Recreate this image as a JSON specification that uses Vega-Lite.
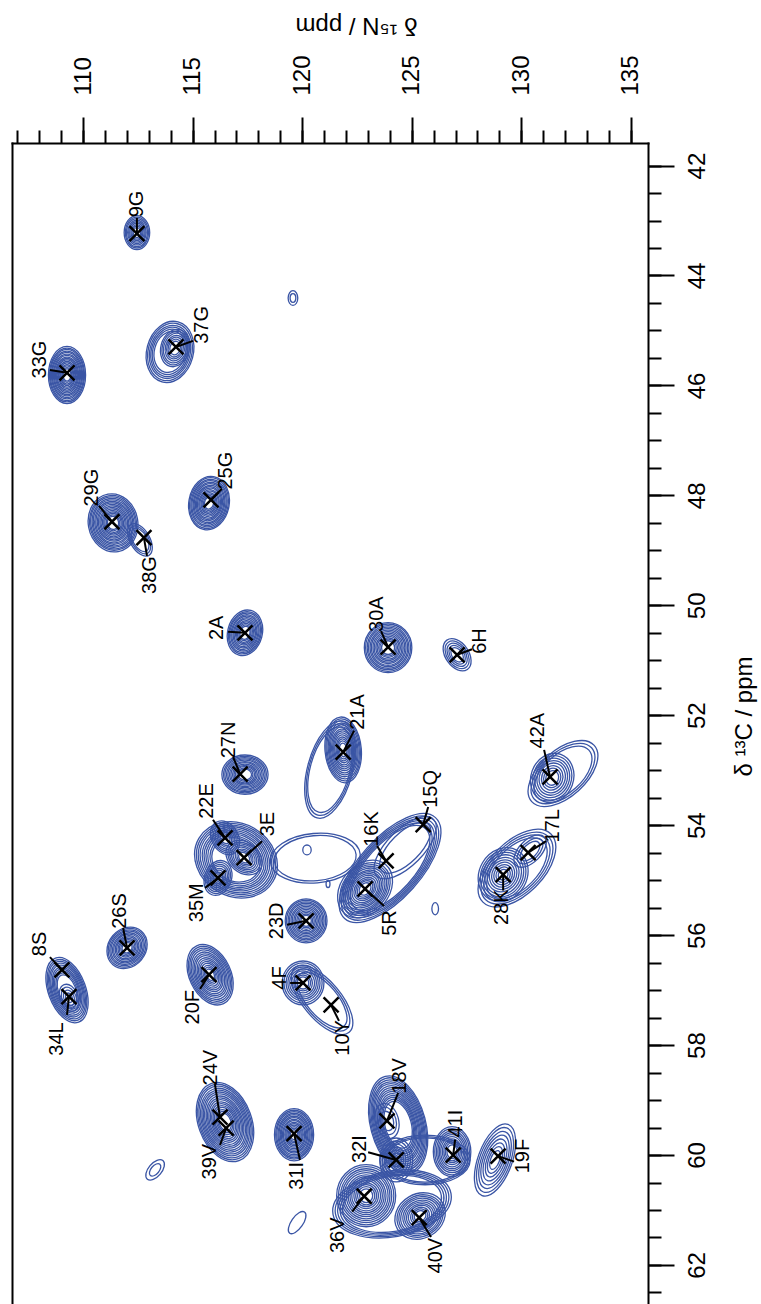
{
  "$schema": "https://vega.github.io/schema/vega-lite/v6.json",
  "autosize": {"type": "none"},
  "padding": {"left": 12, "top": 143, "right": 113, "bottom": 0},
  "width": 636,
  "height": 1161,
  "background": "white",
  "config": {
    "view": {"stroke": null},
    "font": "Liberation Sans",
    "axis": {"grid": false, "domainColor": "black", "tickColor": "black", "labelColor": "black", "titleColor": "black", "labelFont": "Liberation Sans", "titleFont": "Liberation Sans", "titleFontWeight": "normal", "domainWidth": 2, "tickWidth": 2, "labelOverlap": false, "labelFlush": false, "domainCap": "square"}
  },
  "datasets": {
    "blobs": [
      {"n": 112.46, "c": 43.22, "a": "e75", "t": 0, "r": [0.62,0.56,0.51,0.45,0.40,0.35,0.29,0.24,0.18]},
      {"n": 119.58, "c": 44.41, "a": "e65", "t": 0, "r": [0.27,0.16]},
      {"n": 113.97, "c": 45.39, "a": "e75", "t": 15, "r": [1.13,1.06,0.98,0.91,0.84,0.76]},
      {"n": 114.20, "c": 45.32, "a": "e75", "t": 15, "r": [0.69,0.62,0.55,0.47,0.40,0.33,0.25]},
      {"n": 109.27, "c": 45.81, "a": "e65", "t": 0, "r": [1.04,0.98,0.93,0.87,0.82,0.76,0.71,0.65,0.60,0.55,0.49,0.44,0.38,0.33,0.27,0.22]},
      {"n": 111.37, "c": 48.50, "a": "e85", "t": -10, "r": [1.06,1.00,0.95,0.89,0.84,0.78,0.73,0.67,0.62,0.56,0.51,0.45,0.40,0.35,0.29,0.24]},
      {"n": 112.60, "c": 48.81, "a": "e55", "t": -30, "r": [0.65,0.56,0.47]},
      {"n": 115.75, "c": 48.14, "a": "e75", "t": 10, "r": [0.98,0.93,0.87,0.82,0.76,0.71,0.65,0.60,0.55,0.49,0.44,0.38,0.33,0.27,0.22]},
      {"n": 117.39, "c": 50.50, "a": "e75", "t": 15, "r": [0.84,0.78,0.73,0.67,0.62,0.56,0.51,0.45,0.40,0.35,0.29,0.24]},
      {"n": 123.92, "c": 50.77, "a": "e95", "t": 0, "r": [0.91,0.86,0.80,0.75,0.69,0.64,0.58,0.53,0.47,0.42,0.36,0.31,0.25]},
      {"n": 127.07, "c": 50.90, "a": "e65", "t": -35, "r": [0.65,0.56,0.47,0.38,0.29]},
      {"n": 117.39, "c": 53.08, "a": "e85", "t": 90, "r": [0.84,0.78,0.73,0.67,0.62,0.56,0.51,0.45,0.40,0.35,0.29,0.24]},
      {"n": 121.87, "c": 52.63, "a": "e55", "t": -5, "r": [1.20,1.13,1.06,0.98,0.91,0.84,0.76,0.69,0.62,0.55,0.47,0.40,0.33,0.25]},
      {"n": 121.27, "c": 52.99, "a": "e45", "t": 15, "r": [1.82,1.71,1.60]},
      {"n": 116.48, "c": 54.23, "a": "e75", "t": -30, "r": [0.65,0.58,0.51,0.44,0.36,0.29,0.22]},
      {"n": 117.35, "c": 54.59, "a": "e75", "t": -50, "r": [0.73,0.65,0.58,0.51,0.44,0.36,0.29,0.22]},
      {"n": 116.16, "c": 54.96, "a": "e75", "t": 20, "r": [0.65,0.58,0.51,0.44,0.36,0.29,0.22]},
      {"n": 116.98, "c": 54.63, "a": "e85", "t": -60, "r": [1.56,1.49,1.42,1.35,1.27,1.20,1.13,1.06,0.98,0.91]},
      {"n": 120.60, "c": 54.60, "a": "e55", "t": 85, "r": [1.64,1.49]},
      {"n": 124.01, "c": 54.78, "a": "e45", "t": 42, "r": [2.47,2.36,2.25,2.15,2.04,1.93]},
      {"n": 122.87, "c": 55.16, "a": "e75", "t": 40, "r": [1.16,1.06,0.98,0.91,0.84,0.76,0.69,0.62,0.55,0.47,0.40,0.33,0.25]},
      {"n": 124.70, "c": 54.41, "a": "e45", "t": 45, "r": [1.46,1.20]},
      {"n": 120.18, "c": 55.74, "a": "e95", "t": 0, "r": [0.80,0.75,0.69,0.64,0.58,0.53,0.47,0.42,0.36,0.31,0.25,0.20]},
      {"n": 120.22, "c": 54.45, "a": "e85", "t": 0, "r": [0.18]},
      {"n": 121.18, "c": 55.07, "a": "e55", "t": 0, "r": [0.13]},
      {"n": 126.07, "c": 55.52, "a": "e55", "t": 0, "r": [0.22]},
      {"n": 131.41, "c": 53.14, "a": "e85", "t": 20, "r": [0.91,0.82,0.73,0.64,0.55,0.45,0.36,0.27]},
      {"n": 131.90, "c": 53.06, "a": "e55", "t": 48, "r": [1.53,1.40,1.27]},
      {"n": 129.80, "c": 54.78, "a": "e55", "t": 45, "r": [1.75,1.62,1.49,1.36]},
      {"n": 129.17, "c": 54.90, "a": "e85", "t": 30, "r": [1.02,0.93,0.84,0.75,0.65,0.56,0.47,0.38,0.29,0.20]},
      {"n": 130.40, "c": 54.47, "a": "e55", "t": 45, "r": [0.73,0.58,0.44]},
      {"n": 109.27, "c": 57.00, "a": "e55", "t": -20, "r": [1.24,1.16,1.09,1.02,0.95,0.87,0.80,0.73,0.65,0.58]},
      {"n": 109.36, "c": 57.14, "a": "e65", "t": -20, "r": [0.51,0.40,0.29,0.18]},
      {"n": 112.01, "c": 56.23, "a": "e85", "t": 40, "r": [0.80,0.75,0.69,0.64,0.58,0.53,0.47,0.42,0.36,0.31,0.25,0.20]},
      {"n": 115.80, "c": 56.72, "a": "e65", "t": -25, "r": [1.16,1.09,1.02,0.95,0.87,0.80,0.73,0.65,0.58,0.51,0.44,0.36,0.29,0.22]},
      {"n": 120.04, "c": 56.87, "a": "e95", "t": 0, "r": [0.80,0.73,0.65,0.58,0.51,0.44,0.36,0.29,0.22]},
      {"n": 120.91, "c": 57.18, "a": "e45", "t": -40, "r": [1.53,1.38,1.24]},
      {"n": 116.48, "c": 59.40, "a": "e65", "t": -20, "r": [1.49,1.42,1.35,1.27,1.20,1.13,1.06,0.98,0.91,0.84,0.76,0.69,0.62,0.55,0.47,0.40,0.33]},
      {"n": 119.63, "c": 59.63, "a": "e75", "t": 0, "r": [0.95,0.89,0.84,0.78,0.73,0.67,0.62,0.56,0.51,0.45,0.40,0.35,0.29,0.24,0.18]},
      {"n": 113.29, "c": 60.27, "a": "e55", "t": 40, "r": [0.44,0.27]},
      {"n": 119.77, "c": 61.23, "a": "e45", "t": 35, "r": [0.47]},
      {"n": 124.38, "c": 59.45, "a": "e55", "t": -15, "r": [1.82,1.75,1.67,1.60,1.53,1.46,1.38,1.31,1.24,1.16,1.09,1.02,0.95,0.87]},
      {"n": 123.87, "c": 59.38, "a": "e65", "t": -15, "r": [0.65,0.51,0.36]},
      {"n": 124.29, "c": 60.09, "a": "e75", "t": 0, "r": [0.80,0.69,0.58,0.47,0.36,0.25]},
      {"n": 122.92, "c": 60.74, "a": "e95", "t": 0, "r": [1.13,1.06,0.98,0.91,0.84,0.76,0.69,0.62,0.55,0.47,0.40,0.33,0.25]},
      {"n": 125.38, "c": 61.11, "a": "e85", "t": 60, "r": [0.95,0.87,0.80,0.73,0.65,0.58,0.51,0.44,0.36,0.29,0.22]},
      {"n": 126.84, "c": 59.94, "a": "e75", "t": 0, "r": [0.91,0.84,0.76,0.69,0.62,0.55,0.47,0.40,0.33,0.25]},
      {"n": 125.61, "c": 60.09, "a": "e55", "t": 90, "r": [1.64,1.55,1.46]},
      {"n": 124.10, "c": 60.89, "a": "e55", "t": 80, "r": [2.18,2.09,2.00,1.91,1.82]},
      {"n": 128.80, "c": 60.09, "a": "e45", "t": 20, "r": [1.38,1.24,1.09,0.95,0.80,0.65,0.51,0.36]}
    ],
    "peaks": [
      {"id": "9G", "n": 112.46, "c": 43.24, "ln": 112.46, "lc": 42.70, "en": 112.46, "ec": 42.95},
      {"id": "37G", "n": 114.24, "c": 45.30, "ln": 115.43, "lc": 44.90, "en": 115.02, "ec": 45.19},
      {"id": "33G", "n": 109.27, "c": 45.77, "ln": 108.04, "lc": 45.53, "en": 108.49, "ec": 45.72},
      {"id": "29G", "n": 111.32, "c": 48.48, "ln": 110.41, "lc": 47.86, "en": 110.73, "ec": 48.19},
      {"id": "38G", "n": 112.78, "c": 48.77, "ln": 113.06, "lc": 49.45, "en": 112.92, "ec": 49.10},
      {"id": "25G", "n": 115.84, "c": 48.08, "ln": 116.53, "lc": 47.55, "en": 116.34, "ec": 47.88},
      {"id": "2A", "n": 117.39, "c": 50.50, "ln": 116.12, "lc": 50.41, "en": 116.62, "ec": 50.48},
      {"id": "30A", "n": 123.92, "c": 50.76, "ln": 123.42, "lc": 50.16, "en": 123.60, "ec": 50.47},
      {"id": "6H", "n": 127.07, "c": 50.90, "ln": 128.12, "lc": 50.65, "en": 127.75, "ec": 50.80},
      {"id": "27N", "n": 117.17, "c": 53.07, "ln": 116.66, "lc": 52.45, "en": 116.85, "ec": 52.76},
      {"id": "21A", "n": 121.87, "c": 52.67, "ln": 122.55, "lc": 51.94, "en": 122.37, "ec": 52.28},
      {"id": "22E", "n": 116.48, "c": 54.23, "ln": 115.66, "lc": 53.56, "en": 115.93, "ec": 53.90},
      {"id": "3E", "n": 117.35, "c": 54.59, "ln": 118.44, "lc": 53.98, "en": 118.17, "ec": 54.29},
      {"id": "35M", "n": 116.16, "c": 54.96, "ln": 115.20, "lc": 55.41, "en": 115.57, "ec": 55.14},
      {"id": "16K", "n": 123.83, "c": 54.65, "ln": 123.19, "lc": 54.07, "en": 123.42, "ec": 54.38},
      {"id": "15Q", "n": 125.52, "c": 53.99, "ln": 125.88, "lc": 53.34, "en": 125.75, "ec": 53.67},
      {"id": "5R", "n": 122.87, "c": 55.16, "ln": 124.01, "lc": 55.78, "en": 123.74, "ec": 55.47},
      {"id": "23D", "n": 120.18, "c": 55.74, "ln": 118.85, "lc": 55.74, "en": 119.31, "ec": 55.81},
      {"id": "42A", "n": 131.31, "c": 53.12, "ln": 130.77, "lc": 52.28, "en": 131.04, "ec": 52.63},
      {"id": "17L", "n": 130.31, "c": 54.50, "ln": 131.45, "lc": 54.01, "en": 131.13, "ec": 54.29},
      {"id": "28K", "n": 129.17, "c": 54.90, "ln": 129.12, "lc": 55.49, "en": 129.17, "ec": 55.19},
      {"id": "8S", "n": 109.04, "c": 56.63, "ln": 108.04, "lc": 56.16, "en": 108.49, "ec": 56.40},
      {"id": "34L", "n": 109.36, "c": 57.12, "ln": 108.81, "lc": 57.89, "en": 109.27, "ec": 57.45},
      {"id": "26S", "n": 112.01, "c": 56.23, "ln": 111.69, "lc": 55.56, "en": 111.83, "ec": 55.87},
      {"id": "20F", "n": 115.75, "c": 56.72, "ln": 115.02, "lc": 57.31, "en": 115.34, "ec": 56.98},
      {"id": "4F", "n": 120.04, "c": 56.87, "ln": 118.99, "lc": 56.78, "en": 119.45, "ec": 56.87},
      {"id": "10Y", "n": 121.32, "c": 57.27, "ln": 121.87, "lc": 57.87, "en": 121.68, "ec": 57.56},
      {"id": "24V", "n": 116.25, "c": 59.31, "ln": 115.84, "lc": 58.41, "en": 116.02, "ec": 58.71},
      {"id": "39V", "n": 116.53, "c": 59.51, "ln": 115.80, "lc": 60.12, "en": 116.25, "ec": 59.82},
      {"id": "31I", "n": 119.63, "c": 59.61, "ln": 119.77, "lc": 60.38, "en": 119.90, "ec": 60.09},
      {"id": "18V", "n": 123.87, "c": 59.38, "ln": 124.47, "lc": 58.56, "en": 124.38, "ec": 58.87},
      {"id": "32I", "n": 124.29, "c": 60.09, "ln": 122.64, "lc": 59.89, "en": 123.01, "ec": 59.95},
      {"id": "41I", "n": 126.89, "c": 60.00, "ln": 127.02, "lc": 59.43, "en": 126.98, "ec": 59.72},
      {"id": "19F", "n": 128.94, "c": 60.02, "ln": 130.08, "lc": 60.02, "en": 129.67, "ec": 60.12},
      {"id": "36V", "n": 122.83, "c": 60.75, "ln": 121.64, "lc": 61.46, "en": 122.28, "ec": 61.03},
      {"id": "40V", "n": 125.34, "c": 61.14, "ln": 126.11, "lc": 61.83, "en": 125.88, "ec": 61.49}
    ]
  },
  "resolve": {"axis": {"x": "independent", "y": "independent"}},
  "layer": [
    {
      "data": {"name": "blobs"},
      "transform": [{"flatten": ["r"]}],
      "mark": {"type": "point", "filled": false, "stroke": "#3a55a5", "strokeWidth": 1.3, "opacity": 1},
      "encoding": {
        "x": {"field": "n", "type": "quantitative", "scale": {"domain": [106.76, 135.78], "nice": false, "zero": false},
          "axis": {"orient": "top", "values": [110,115,120,125,130,135], "tickSize": 26, "labelAngle": 270, "labelAlign": "left", "labelBaseline": "middle", "labelPadding": 22, "labelFontSize": 24, "title": "δ ¹⁵N / ppm", "titleAngle": 180, "titleFontSize": 24, "titleAlign": "center", "titleBaseline": "middle", "titleX": 344, "titleY": -119}},
        "y": {"field": "c", "type": "quantitative", "scale": {"domain": [41.59, 62.71], "nice": false, "zero": false, "reverse": true},
          "axis": {"orient": "right", "values": [42,44,46,48,50,52,54,56,58,60,62], "tickSize": 26, "labelAngle": 270, "labelAlign": "center", "labelBaseline": "top", "labelPadding": 11, "labelFontSize": 24, "title": "δ ¹³C / ppm", "titleAngle": 270, "titleFontSize": 24, "titleAlign": "center", "titleBaseline": "middle", "titleX": 96, "titleY": 573}},
        "size": {"field": "r", "type": "quantitative", "scale": {"type": "pow", "exponent": 2, "domain": [0, 3], "range": [0, 27196]}, "legend": null},
        "shape": {"field": "a", "type": "nominal", "legend": null, "scale": {
          "domain": ["e45","e55","e65","e75","e85","e95"],
          "range": [
            "M0,-1A0.45,1 0 1,1 0,1A0.45,1 0 1,1 0,-1Z",
            "M0,-1A0.55,1 0 1,1 0,1A0.55,1 0 1,1 0,-1Z",
            "M0,-1A0.65,1 0 1,1 0,1A0.65,1 0 1,1 0,-1Z",
            "M0,-1A0.75,1 0 1,1 0,1A0.75,1 0 1,1 0,-1Z",
            "M0,-1A0.85,1 0 1,1 0,1A0.85,1 0 1,1 0,-1Z",
            "M0,-1A0.95,1 0 1,1 0,1A0.95,1 0 1,1 0,-1Z"
          ]}},
        "angle": {"field": "t", "type": "quantitative", "scale": null}
      }
    },
    {
      "data": {"name": "peaks"},
      "mark": {"type": "rule", "stroke": "black", "strokeWidth": 2},
      "encoding": {
        "x": {"field": "n", "type": "quantitative", "scale": {"domain": [106.76, 135.78], "nice": false, "zero": false},
          "axis": {"orient": "top", "values": [107,108,109,110,111,112,113,114,115,116,117,118,119,120,121,122,123,124,125,126,127,128,129,130,131,132,133,134,135], "tickSize": 13, "labels": false, "domain": false, "title": null}},
        "y": {"field": "c", "type": "quantitative", "scale": {"domain": [41.59, 62.71], "nice": false, "zero": false, "reverse": true},
          "axis": {"orient": "right", "values": [42,42.5,43,43.5,44,44.5,45,45.5,46,46.5,47,47.5,48,48.5,49,49.5,50,50.5,51,51.5,52,52.5,53,53.5,54,54.5,55,55.5,56,56.5,57,57.5,58,58.5,59,59.5,60,60.5,61,61.5,62,62.5], "tickSize": 13, "labels": false, "domain": false, "title": null}},
        "x2": {"field": "en"},
        "y2": {"field": "ec"}
      }
    },
    {
      "data": {"name": "peaks"},
      "mark": {"type": "point", "filled": false, "stroke": "black", "strokeWidth": 2.5, "size": 225, "opacity": 1, "shape": "M-1,-1L1,1M-1,1L1,-1"},
      "encoding": {
        "x": {"field": "n", "type": "quantitative", "scale": {"domain": [106.76, 135.78], "nice": false, "zero": false}, "axis": null},
        "y": {"field": "c", "type": "quantitative", "scale": {"domain": [41.59, 62.71], "nice": false, "zero": false, "reverse": true},
          "axis": {"orient": "left", "values": [], "ticks": false, "labels": false, "domain": true, "title": null}}
      }
    },
    {
      "data": {"name": "peaks"},
      "mark": {"type": "text", "angle": 270, "fontSize": 20, "font": "Liberation Sans", "align": "center", "baseline": "middle", "color": "black"},
      "encoding": {
        "x": {"field": "ln", "type": "quantitative", "scale": {"domain": [106.76, 135.78], "nice": false, "zero": false}, "axis": null},
        "y": {"field": "lc", "type": "quantitative", "scale": {"domain": [41.59, 62.71], "nice": false, "zero": false, "reverse": true}, "axis": null},
        "text": {"field": "id"}
      }
    }
  ]
}
